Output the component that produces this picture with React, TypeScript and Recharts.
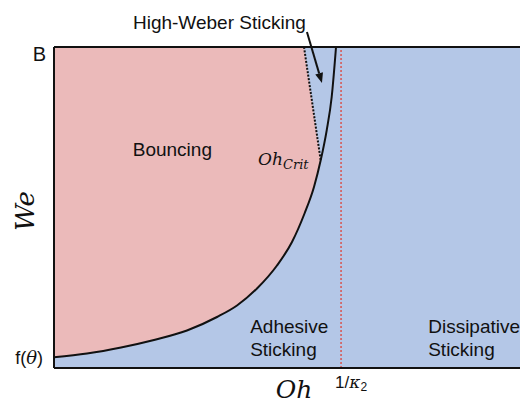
import React from "react";
import {
  Area,
  ComposedChart,
  Line,
  ReferenceArea,
  ReferenceLine,
  Scatter,
  XAxis,
  YAxis,
} from "recharts";

// boundary between bouncing and sticking (arbitrary units 0-100)
const ohPoints = [0, 7.08, 14.38, 21.46, 28.54, 34.98, 39.27, 43.56, 47.85, 51.07, 53.76, 55.79, 57.23, 58.52, 59.59, 60.52];
const weBoundary = [3.33, 4.52, 6.39, 8.72, 11.68, 15.89, 19.47, 24.77, 31.93, 39.25, 48.13, 56.39, 64.7, 74.05, 84.42, 100];

// dotted Oh_crit line
const critOh = [53.65, 57.23];
const critWe = [100, 64.7];

const kappaOh = 61.6;
const topWe = 100;
const fThetaWe = 3.4;

const regionLabels = [
  { oh: 16.9, we: 65.9, lines: ["Bouncing"] },
  { oh: 42.1, we: 10.9, lines: ["Adhesive", "Sticking"] },
  { oh: 80.3, we: 10.9, lines: ["Dissipative", "Sticking"] },
];
const critLabel = [{ oh: 43.8, we: 63.2 }];
const arrowTip = [{ oh: 57.5, we: 88.8 }];

const PINK = "#ebbaba";
const BLUE = "#b4c7e7";
const SANS = "'Liberation Sans', Arial, sans-serif";
const MATH = "'DejaVu Serif', serif";

const allOh = Array.from(new Set([...ohPoints, ...critOh])).sort((a, b) => a - b);

const data = allOh.map((oh) => {
  const i = ohPoints.indexOf(oh);
  const c = critOh.indexOf(oh);
  const we = i >= 0 ? weBoundary[i] : null;
  return {
    oh,
    boundary: we,
    bouncing: we === null ? null : [we, topWe],
    crit: c >= 0 ? critWe[c] : null,
    highWeber:
      oh === critOh[0]
        ? [critWe[0], topWe]
        : oh >= critOh[1] && we !== null
        ? [we, topWe]
        : null,
  };
});

const RegionText = (props: any) => {
  const { cx, cy, payload } = props;
  return (
    <text x={cx} y={cy} fontFamily={SANS} fontSize={19} fill="#111">
      {payload.lines.map((l: string, i: number) => (
        <tspan key={l} x={cx} dy={i === 0 ? 0 : 23}>
          {l}
        </tspan>
      ))}
    </text>
  );
};

const CritText = (props: any) => {
  const { cx, cy } = props;
  return (
    <text x={cx} y={cy} fontFamily={MATH} fontStyle="italic" fontSize={17} fill="#111">
      Oh
      <tspan fontSize={13} dy={4}>
        Crit
      </tspan>
    </text>
  );
};

const Arrow = (props: any) => {
  const { cx, cy } = props;
  const tx = cx - 15;
  const ty = cy - 51;
  const len = Math.hypot(cx - tx, cy - ty);
  const ux = (cx - tx) / len;
  const uy = (cy - ty) / len;
  const bx = cx - ux * 10;
  const by = cy - uy * 10;
  const px = -uy * 4;
  const py = ux * 4;
  return (
    <g>
      <text x={cx - 189} y={cy - 54} fontFamily={SANS} fontSize={19} fill="#111">
        High-Weber Sticking
      </text>
      <line x1={tx} y1={ty} x2={bx} y2={by} stroke="#111" strokeWidth={2} />
      <polygon
        points={`${cx},${cy} ${bx + px},${by + py} ${bx - px},${by - py}`}
        fill="#111"
      />
    </g>
  );
};

const YTick = (props: any) => {
  const { x, y, payload } = props;
  if (payload.value === topWe) {
    return (
      <text x={x} y={y + 14} textAnchor="end" fontFamily={SANS} fontSize={20} fill="#111">
        B
      </text>
    );
  }
  return (
    <text x={x - 3} y={y + 7} textAnchor="end" fontFamily={SANS} fontSize={18} fill="#111">
      f(
      <tspan fontFamily={MATH} fontStyle="italic">
        θ
      </tspan>
      )
    </text>
  );
};

const XTick = (props: any) => {
  const { x, y } = props;
  return (
    <text x={x - 6} y={y + 12} fontFamily={SANS} fontSize={17} fill="#111">
      1/
      <tspan fontFamily={MATH} fontStyle="italic">
        κ
      </tspan>
      <tspan fontSize={12} dy={3}>
        2
      </tspan>
    </text>
  );
};

export default function App() {
  return (
    <div style={{ position: "absolute", left: 0, top: 0, background: "#fff" }}>
      <ComposedChart
        width={520}
        height={403}
        data={data}
        margin={{ top: 47, right: 0, bottom: 0, left: 0 }}
      >
        <XAxis
          dataKey="oh"
          type="number"
          domain={[0, 100]}
          ticks={[kappaOh]}
          tick={<XTick />}
          tickLine={false}
          tickSize={8}
          tickMargin={0}
          height={35}
          axisLine={{ stroke: "#111", strokeWidth: 2 }}
          label={{
            content: ({ viewBox }: any) => (
              <text
                x={viewBox.x + 240}
                y={viewBox.y + 30}
                textAnchor="middle"
                fontFamily={MATH}
                fontStyle="italic"
                fontSize={25}
                fill="#111"
              >
                Oh
              </text>
            ),
          }}
        />
        <YAxis
          type="number"
          domain={[0, 100]}
          ticks={[fThetaWe, topWe]}
          tick={<YTick />}
          tickLine={false}
          tickSize={8}
          tickMargin={0}
          width={54}
          axisLine={{ stroke: "#111", strokeWidth: 2 }}
          label={{
            content: () => (
              <text
                x={25}
                y={211}
                transform="rotate(-90 25 211)"
                textAnchor="middle"
                dominantBaseline="central"
                fontFamily={MATH}
                fontStyle="italic"
                fontSize={26}
                fill="#111"
              >
                We
              </text>
            ),
          }}
        />
        <ReferenceArea x1={0} x2={100} y1={0} y2={100} fill={BLUE} fillOpacity={1} stroke="none" />
        <Area
          dataKey="bouncing"
          type="monotone"
          fill={PINK}
          fillOpacity={1}
          stroke="none"
          connectNulls
          isAnimationActive={false}
        />
        <Area
          dataKey="highWeber"
          type="linear"
          fill={BLUE}
          fillOpacity={1}
          stroke="none"
          connectNulls
          isAnimationActive={false}
        />
        <ReferenceLine
          x={kappaOh}
          stroke="#d9534f"
          strokeWidth={1.5}
          strokeDasharray="2 2"
        />
        <Line
          dataKey="crit"
          type="linear"
          stroke="#111"
          strokeWidth={2}
          strokeDasharray="2 1.5"
          dot={false}
          connectNulls
          isAnimationActive={false}
        />
        <Line
          dataKey="boundary"
          type="monotone"
          stroke="#111"
          strokeWidth={2}
          dot={false}
          connectNulls
          isAnimationActive={false}
        />
        <ReferenceLine y={topWe} stroke="#111" strokeWidth={2} />
        <Scatter data={regionLabels} dataKey="we" shape={<RegionText />} isAnimationActive={false} />
        <Scatter data={critLabel} dataKey="we" shape={<CritText />} isAnimationActive={false} />
        <Scatter data={arrowTip} dataKey="we" shape={<Arrow />} isAnimationActive={false} />
      </ComposedChart>
    </div>
  );
}
